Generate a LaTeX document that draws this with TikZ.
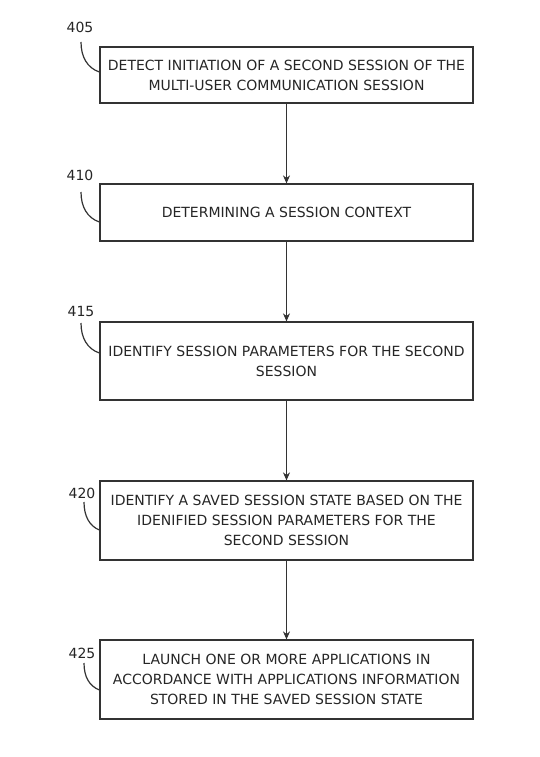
\documentclass[tikz,border=0pt]{standalone}
\usepackage{fontspec}
\setmainfont{DejaVu Sans}
\usetikzlibrary{arrows.meta}
\begin{document}
\begin{tikzpicture}[x=1bp,y=-1bp,
  stepbox/.style={draw=black!80,line width=1.2bp,minimum width=373bp,inner sep=0pt,
    align=center,font=\fontsize{14bp}{20bp}\selectfont,text=black!85},
  reflabel/.style={inner sep=1bp,font=\fontsize{14bp}{16bp}\selectfont,text=black!85},
  leader/.style={draw=black!80,line width=1.2bp},
  flow/.style={draw=black!80,line width=1.1bp,-{Stealth[length=8bp,width=7bp]}}]
\useasboundingbox (0,0) rectangle (540,757);
\fill[white] (0,0) rectangle (540,757);

\node[stepbox,minimum height=56bp] (b1) at (286.5,75) {DETECT INITIATION OF A SECOND SESSION OF THE\\MULTI-USER COMMUNICATION SESSION};
\node[stepbox,minimum height=57bp] (b2) at (286.5,212.5) {DETERMINING A SESSION CONTEXT};
\node[stepbox,minimum height=78bp] (b3) at (286.5,361) {IDENTIFY SESSION PARAMETERS FOR THE SECOND\\SESSION};
\node[stepbox,minimum height=79bp] (b4) at (286.5,520.5) {IDENTIFY A SAVED SESSION STATE BASED ON THE\\IDENIFIED SESSION PARAMETERS FOR THE\\SECOND SESSION};
\node[stepbox,minimum height=79bp] (b5) at (286.5,679.5) {LAUNCH ONE OR MORE APPLICATIONS IN\\ACCORDANCE WITH APPLICATIONS INFORMATION\\STORED IN THE SAVED SESSION STATE};

\draw[flow] (b1.south) -- (b2.north);
\draw[flow] (b2.south) -- (b3.north);
\draw[flow] (b3.south) -- (b4.north);
\draw[flow] (b4.south) -- (b5.north);

\node[reflabel] (l1) at (80,27) {405};
\node[reflabel] (l2) at (80,175) {410};
\node[reflabel] (l3) at (81,311) {415};
\node[reflabel] (l4) at (82,493) {420};
\node[reflabel] (l5) at (82,653) {425};

\coordinate (s1) at (81,42);  \coordinate (e1) at (b1.west |- 0,72);
\coordinate (s2) at (81,192); \coordinate (e2) at (b2.west |- 0,222);
\coordinate (s3) at (81,323); \coordinate (e3) at (b3.west |- 0,353);
\coordinate (s4) at (84,502); \coordinate (e4) at (b4.west |- 0,530);
\coordinate (s5) at (84,663); \coordinate (e5) at (b5.west |- 0,690);

\draw[leader] (s1) .. controls +(0,15) and +(-12,-4) .. (e1);
\draw[leader] (s2) .. controls +(0,15) and +(-12,-4) .. (e2);
\draw[leader] (s3) .. controls +(0,15) and +(-12,-4) .. (e3);
\draw[leader] (s4) .. controls +(0,14) and +(-10,-4) .. (e4);
\draw[leader] (s5) .. controls +(0,14) and +(-10,-4) .. (e5);
\end{tikzpicture}
\end{document}
